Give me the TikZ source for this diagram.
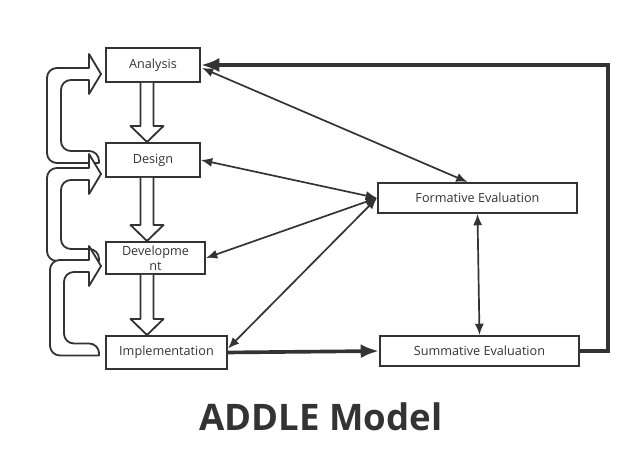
\documentclass[tikz,border=0pt]{standalone}
\usepackage{fontspec}
\setmainfont{Open Sans}
\usetikzlibrary{positioning,arrows.meta,calc}
\definecolor{ink}{HTML}{333333}

\begin{document}
\begin{tikzpicture}[x=0.025cm, y=-0.025cm, >=Latex, every node/.style={font=\fontsize{9}{10.5}\selectfont, text=ink}]
\tikzstyle{stage}=[rectangle, draw=ink, line width=1.4pt, minimum width=2.35cm, minimum height=0.85cm, align=center, inner sep=1pt]
\tikzstyle{link}=[draw=ink, line width=1.2pt, {Latex[length=8pt,width=6.5pt]}-{Latex[length=8pt,width=6.5pt]}]
\tikzstyle{flow}=[draw=ink, line width=2.6pt, -{Latex[length=13pt,width=10pt]}]
\tikzstyle{hollow}=[draw=ink, line width=1.3pt, fill=white, line join=round]

\useasboundingbox (0,0) rectangle (640,467);

% left column
\node[stage] (analysis) at (153,65) {Analysis};
\node[stage, below=1.475cm of analysis] (design) {Design};
\node[stage, minimum width=2.475cm, minimum height=0.8cm, below=1.575cm of design.south west, anchor=north west] (development) {Developme\\nt};
\node[stage, minimum width=3.025cm, minimum height=0.825cm, below=1.5cm of development.south west, anchor=north west] (implementation) {Implementation};

% evaluation
\node[stage, minimum width=4.975cm, minimum height=0.75cm] (formative) at (477.5,198) {Formative Evaluation};
\node[stage, minimum width=4.975cm, minimum height=0.75cm] (summative) at (479.5,351) {Summative Evaluation};

% hollow arrows down the column
\foreach \a/\b in {analysis/design, design/development, development/implementation}
  \draw[hollow] ($(\a.south west)+(35.5,0)$) -- ($(\b.north west)+(35.5,-16)$) -- ($(\b.north west)+(25.5,-16)$) -- ($(\b.north west)+(42,0)$) -- ($(\b.north west)+(58.5,-16)$) -- ($(\b.north west)+(48.5,-16)$) -- ($(\a.south west)+(48.5,0)$);

% hollow loops back up
\foreach \a/\b/\off/\xo in {analysis/design/9/-58, design/development/14/-58, development/implementation/8/-55}
  \draw[hollow] ($(\b.west)+(-6,3)$) [rounded corners=7pt] -- ($(\b.west)+(\xo,3)$) -- ($(\a.west)+(\xo,\off-6)$) -- ($(\a.west)+(-30,\off-6)$) [sharp corners] -- ($(\a.west)+(-16,\off-6)$) -- ($(\a.west)+(-16,\off-20)$) -- ($(\a.west)+(-4,\off)$) -- ($(\a.west)+(-16,\off+20)$) -- ($(\a.west)+(-16,\off+6)$) -- ($(\a.west)+(-30,\off+6)$) [rounded corners=7pt] -- ($(\a.west)+(\xo+14,\off+6)$) -- ($(\b.west)+(\xo+14,-9)$) -- ($(\b.west)+(-6,-9)$) [sharp corners] -- cycle;

% links to formative evaluation
\draw[link] ($(analysis.east)+(1,3)$) -- ($(formative.north)+(-10,0)$);
\draw[link] (design.east) -- (formative.west);
\draw[link] (development.east) -- (formative.west);
\draw[link] ($(implementation.east)+(0,-4)$) -- (formative.west);
\draw[link] (formative.south) -- (summative.north);

% main flow
\coordinate (back) at (608,0);
\draw[flow] (implementation.east) -- (summative.west);
\draw[flow, line width=2.8pt] (summative.east) -- (summative.east -| back) -- (analysis.east -| back) -- (analysis.east);

\node[font=\fontsize{26}{30}\selectfont\bfseries, anchor=base] (title) at (321,430) {ADDLE Model};
\end{tikzpicture}
\end{document}
